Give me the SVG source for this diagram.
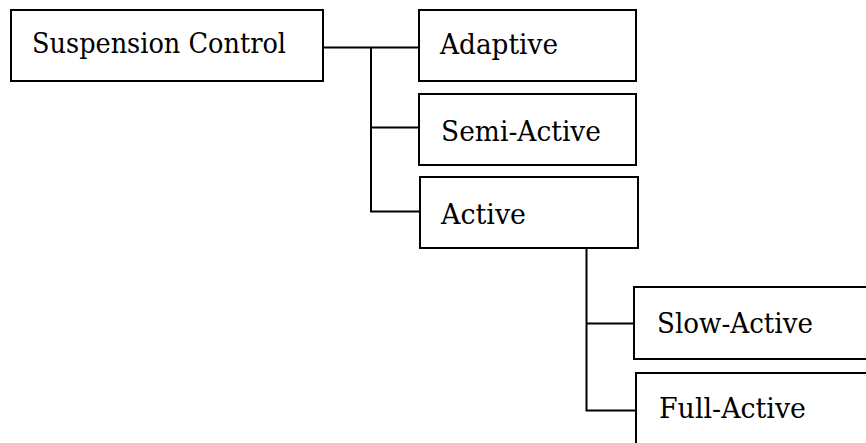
<svg xmlns="http://www.w3.org/2000/svg" width="866" height="443" viewBox="0 0 866 443">
  <style>
    .box { fill: #ffffff; stroke: #000000; stroke-width: 2; }
    .label { font-family: "DejaVu Serif", serif; font-size: 28px; fill: #000000; }
    .wire { fill: none; stroke: #000000; stroke-width: 2; }
  </style>
  <rect width="866" height="443" fill="#ffffff"/>

  <g id="connectors">
    <path class="wire" d="M323 47.5 H419"/>
    <path class="wire" d="M371 47.5 V211.5 H420"/>
    <path class="wire" d="M371 127.5 H419"/>
    <path class="wire" d="M586.5 248 V410.5 H636"/>
    <path class="wire" d="M586.5 323.5 H634"/>
  </g>

  <g id="suspension-control">
    <rect class="box" x="11" y="10" width="312" height="71"/>
    <text class="label" x="32" y="53" textLength="254" lengthAdjust="spacingAndGlyphs">Suspension Control</text>
  </g>

  <g id="adaptive">
    <rect class="box" x="419" y="10" width="217" height="71"/>
    <text class="label" x="440" y="54" textLength="118" lengthAdjust="spacingAndGlyphs">Adaptive</text>
  </g>

  <g id="semi-active">
    <rect class="box" x="419" y="94" width="217" height="71"/>
    <text class="label" x="441" y="141" textLength="160" lengthAdjust="spacingAndGlyphs">Semi-Active</text>
  </g>

  <g id="active">
    <rect class="box" x="420" y="177" width="218" height="71"/>
    <text class="label" x="441" y="224" textLength="85" lengthAdjust="spacingAndGlyphs">Active</text>
  </g>

  <g id="slow-active">
    <rect class="box" x="634" y="287" width="240" height="72"/>
    <text class="label" x="657" y="333" textLength="156" lengthAdjust="spacingAndGlyphs">Slow-Active</text>
  </g>

  <g id="full-active">
    <rect class="box" x="636" y="373" width="240" height="90"/>
    <text class="label" x="659" y="418" textLength="147" lengthAdjust="spacingAndGlyphs">Full-Active</text>
  </g>
</svg>
